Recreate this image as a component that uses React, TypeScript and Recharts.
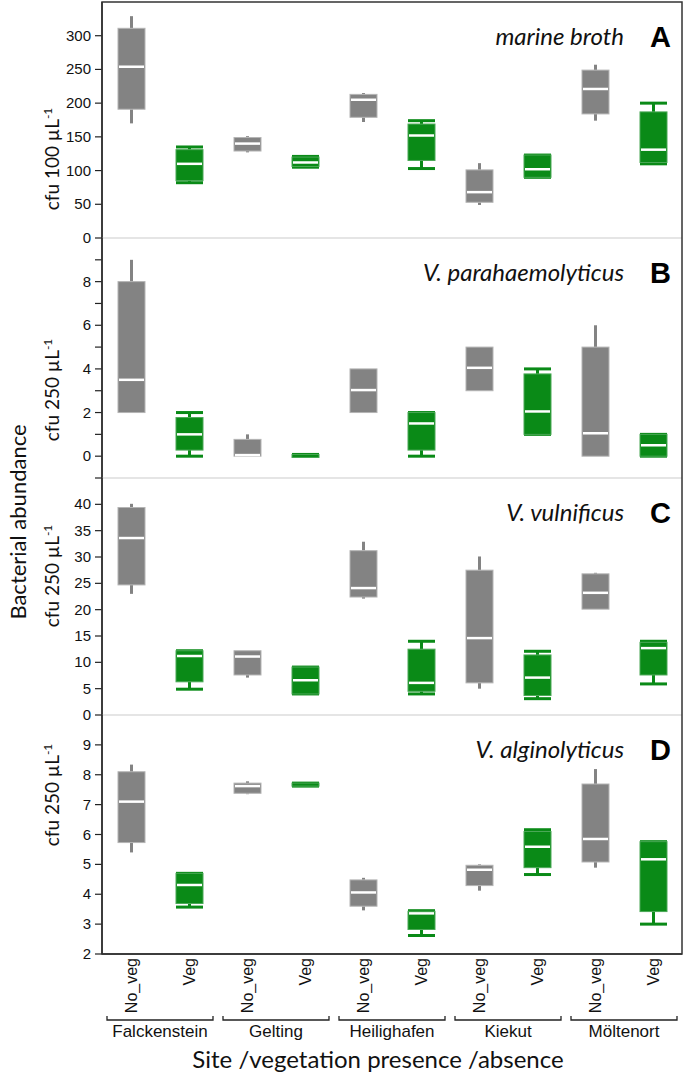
import React from 'react';
import { Bar, ComposedChart, ReferenceLine, XAxis, YAxis } from 'recharts';

const sites = ['Falckenstein', 'Gelting', 'Heilighafen', 'Kiekut', 'Möltenort'];
const vegetation = ['No_veg', 'Veg'];

// [min, q1, median, q3, max] for each site / vegetation, in order
const marineBroth = [
  [170, 191, 254, 311, 329],
  [82, 85, 110, 131, 135],
  [127, 129, 140, 149, 151],
  [105, 106, 112, 120, 121],
  [172, 179, 205, 213, 215],
  [103, 115, 152, 169, 174],
  [49, 53, 68, 101, 111],
  [90, 90, 102, 123, 123],
  [174, 184, 221, 249, 257],
  [110, 112, 131, 187, 200],
];
const parahaemolyticus = [
  [2, 2, 3.5, 8, 9],
  [0, 0.28, 1.0, 1.77, 2],
  [0, 0, 0.05, 0.77, 1],
  [0, 0, 0.03, 0.08, 0.08],
  [2, 2, 3.03, 4, 4],
  [0, 0.28, 1.5, 2, 2],
  [3, 3, 4.05, 5, 5],
  [1, 1, 2.05, 3.77, 4],
  [0, 0, 1.05, 5, 6],
  [0, 0, 0.5, 1, 1],
];
const vulnificus = [
  [23, 24.7, 33.6, 39.4, 40.1],
  [4.9, 6.3, 11.2, 12.2, 12.2],
  [7.1, 7.6, 11.1, 12.2, 12.2],
  [4, 4, 6.6, 9.1, 9.1],
  [22.1, 22.4, 24.1, 31.2, 32.9],
  [4, 4.5, 6.1, 12.5, 14],
  [5, 6.1, 14.6, 27.5, 30.1],
  [3.1, 3.7, 7.1, 11.4, 12.1],
  [20.1, 20.1, 23.2, 26.8, 27],
  [5.9, 7.6, 12.7, 13.8, 14],
];
const alginolyticus = [
  [5.4, 5.73, 7.1, 8.1, 8.34],
  [3.57, 3.69, 4.31, 4.7, 4.7],
  [7.35, 7.38, 7.62, 7.72, 7.78],
  [7.62, 7.63, 7.68, 7.72, 7.72],
  [3.46, 3.6, 4.06, 4.48, 4.55],
  [2.62, 2.82, 3.36, 3.43, 3.45],
  [4.12, 4.29, 4.82, 4.97, 5.0],
  [4.66, 4.89, 5.59, 6.1, 6.16],
  [4.89, 5.08, 5.85, 7.69, 8.19],
  [3.0, 3.42, 5.17, 5.76, 5.76],
];

const ticksA = [0, 50, 100, 150, 200, 250, 300];
const ticksB = [-1, 0, 1, 2, 3, 4, 5, 6, 7, 8, 9];
const labelsB = [0, 2, 4, 6, 8];
const ticksC = [0, 5, 10, 15, 20, 25, 30, 35, 40];
const ticksD = [2, 3, 4, 5, 6, 7, 8, 9];

const GREY = '#838383';
const GREEN = '#0a8a17';
const LEFT = 102;
const RIGHT = 682;
const PLOT_W = RIGHT - LEFT;
const PAD = 10; // room so labels on panel edges are not clipped
const AXIS_FONT = '"Liberation Sans", Arial, sans-serif';
const LABEL_FONT = 'Lato, "Open Sans", sans-serif';

function toRows(values: number[][]) {
  const rows: any[] = [];
  sites.forEach((site, i) =>
    vegetation.forEach((veg, j) => {
      const [min, q1, median, q3, max] = values[i * 2 + j];
      rows.push({ key: site + '|' + veg, site, veg, min, q1, median, q3, max });
    })
  );
  return rows;
}

function BoxShape(props: any) {
  const { x, y, width, height, payload } = props;
  const top = Math.min(y, y + height);
  const h = Math.abs(height);
  const span = payload.max - payload.min;
  const py = (v: number) => (span === 0 ? top : top + ((payload.max - v) / span) * h);
  const isVeg = payload.veg === 'Veg';
  const color = isVeg ? GREEN : GREY;
  const cx = x + width / 2;
  const yq3 = py(payload.q3);
  const yq1 = py(payload.q1);
  const boxH = Math.max(yq1 - yq3, 3);
  return (
    <g>
      <line x1={cx} x2={cx} y1={py(payload.max)} y2={yq3} stroke={color} strokeWidth={3} />
      <line x1={cx} x2={cx} y1={yq1} y2={py(payload.min)} stroke={color} strokeWidth={3} />
      {isVeg && (
        <>
          <line x1={x} x2={x + width} y1={py(payload.max)} y2={py(payload.max)} stroke={color} strokeWidth={3} />
          <line x1={x} x2={x + width} y1={py(payload.min)} y2={py(payload.min)} stroke={color} strokeWidth={3} />
        </>
      )}
      <rect x={x} y={yq3} width={width} height={boxH} fill={color} stroke={isVeg ? '#4aa856' : '#b4b4b4'} strokeWidth={1} />
      {boxH > 5 && (
        <line x1={x + 1} x2={x + width - 1} y1={py(payload.median)} y2={py(payload.median)} stroke="#fff" strokeWidth={2.5} />
      )}
    </g>
  );
}

function makeYTick(labeled: number[] | null) {
  return (props: any) => {
    const { x, y, payload } = props;
    if (labeled && !labeled.includes(payload.value)) return <g />;
    return (
      <text x={x} y={y} dy={5} textAnchor="end" fontSize={15} fontFamily={AXIS_FONT} fill="#111">
        {payload.value}
      </text>
    );
  };
}

function SiteTick(props: any) {
  const { x, y, payload } = props;
  const [site, veg] = String(payload.value).split('|');
  const step = PLOT_W / (sites.length * vegetation.length);
  return (
    <g>
      <text
        transform={`translate(${x + 6},${y + 4}) rotate(-90)`}
        textAnchor="end"
        fontSize={16}
        fontFamily={AXIS_FONT}
        fill="#111"
      >
        {veg}
      </text>
      {veg === vegetation[0] && (
        <g>
          <path
            d={`M${x - 24},${y + 62} v4 H${x + step + 24} v-4`}
            fill="none"
            stroke="#222"
            strokeWidth={1.3}
          />
          <text x={x + step / 2} y={y + 83} textAnchor="middle" fontSize={17} fontFamily={AXIS_FONT} fill="#111">
            {site}
          </text>
        </g>
      )}
    </g>
  );
}

const panels = [
  { rows: toRows(marineBroth), title: 'marine broth', letter: 'A', unit: '100', domain: [0, 350], ticks: ticksA, labeled: null },
  { rows: toRows(parahaemolyticus), title: 'V. parahaemolyticus', letter: 'B', unit: '250', domain: [-1, 10], ticks: ticksB, labeled: labelsB },
  { rows: toRows(vulnificus), title: 'V. vulnificus', letter: 'C', unit: '250', domain: [0, 45], ticks: ticksC, labeled: null },
  { rows: toRows(alginolyticus), title: 'V. alginolyticus', letter: 'D', unit: '250', domain: [2, 10], ticks: ticksD, labeled: null },
];

const layout = [
  { top: 2, height: 236, unitY: 159 },
  { top: 238, height: 240, unitY: 390 },
  { top: 478, height: 237, unitY: 576 },
  { top: 715, height: 239, unitY: 795 },
];

const X_AXIS_H = 123;

export default function App() {
  return (
    <div style={{ position: 'absolute', left: 0, top: 0, width: 685, height: 1077, background: '#fff' }}>
      {panels.map((p, i) => {
        const l = layout[i];
        const last = i === panels.length - 1;
        return (
          <div key={p.letter} style={{ position: 'absolute', left: 0, top: l.top - PAD }}>
            <ComposedChart
              width={685}
              height={l.height + PAD + (last ? X_AXIS_H : PAD)}
              data={p.rows}
              margin={{ top: PAD, right: 685 - RIGHT, bottom: last ? 0 : PAD, left: LEFT - 40 }}
            >
              <XAxis
                dataKey="key"
                hide={!last}
                height={last ? X_AXIS_H : 0}
                axisLine={{ stroke: '#222', strokeWidth: 1.5 }}
                tickLine={false}
                tickSize={0}
                tickMargin={0}
                interval={0}
                tick={<SiteTick />}
              />
              <YAxis
                type="number"
                width={40}
                domain={p.domain}
                ticks={p.ticks}
                interval={0}
                allowDataOverflow
                axisLine={{ stroke: '#222', strokeWidth: 1.5 }}
                tickLine={{ stroke: '#222', strokeWidth: 1.2 }}
                tickSize={7}
                tickMargin={4}
                tick={makeYTick(p.labeled)}
              />
              {i > 0 && <ReferenceLine y={p.domain[1]} stroke="#dddddd" strokeWidth={1.5} />}
              <Bar
                dataKey={(d: any) => [d.min, d.max]}
                barSize={27}
                shape={<BoxShape />}
                isAnimationActive={false}
              />
            </ComposedChart>
          </div>
        );
      })}
      <svg
        width={685}
        height={1077}
        style={{ position: 'absolute', left: 0, top: 0, pointerEvents: 'none' }}
      >
        <rect x={LEFT} y={2} width={PLOT_W} height={952} fill="none" stroke="#333" strokeWidth={1.5} />
        {panels.map((p, i) => {
          const l = layout[i];
          return (
            <g key={p.letter}>
              <text x={624} y={l.top + 43} textAnchor="end" fontSize={24} fontStyle="italic" fontFamily={LABEL_FONT} fill="#111">
                {p.title}
              </text>
              <text x={671} y={l.top + 45} textAnchor="end" fontSize={29} fontWeight="bold" fontFamily={AXIS_FONT} fill="#000">
                {p.letter}
              </text>
              <text
                transform={`translate(59,${l.unitY}) rotate(-90)`}
                textAnchor="middle"
                fontSize={19}
                fontFamily={LABEL_FONT}
                fill="#111"
              >
                {'cfu ' + p.unit + ' µL'}
                <tspan dy={-7} fontSize={12}>-1</tspan>
              </text>
            </g>
          );
        })}
        <text transform="translate(26,522) rotate(-90)" textAnchor="middle" fontSize={22} fontFamily={LABEL_FONT} fill="#111">
          Bacterial abundance
        </text>
        <text x={378} y={1068} textAnchor="middle" fontSize={24} fontFamily={LABEL_FONT} fill="#111">
          Site /vegetation presence /absence
        </text>
      </svg>
    </div>
  );
}
